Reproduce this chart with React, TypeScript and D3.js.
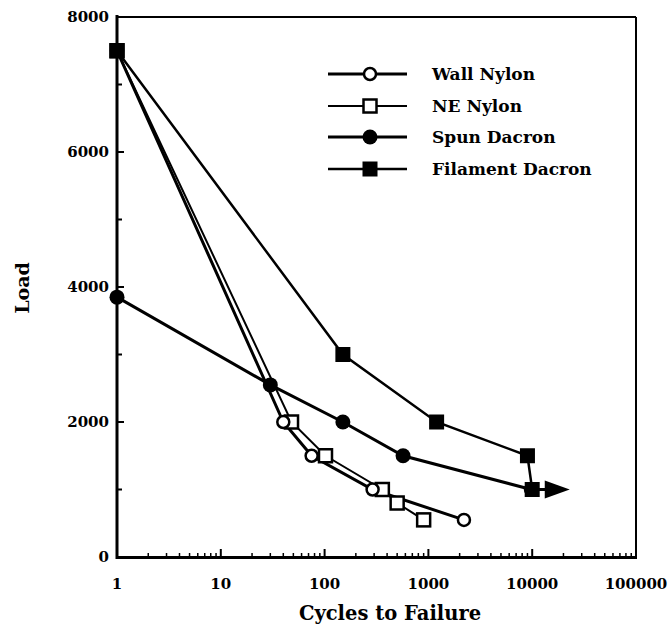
import React from "react";
import * as d3 from "d3";

const wallCycles = [1, 40, 75, 290, 2200];
const wallLoad = [7500, 2000, 1500, 1000, 550];
const neCycles = [1, 48, 102, 360, 500, 900];
const neLoad = [7500, 2000, 1500, 1000, 800, 550];
const spunCycles = [1, 30, 150, 570, 9800];
const spunLoad = [3850, 2550, 2000, 1500, 1000];
const filCycles = [1, 150, 1200, 9000, 10000];
const filLoad = [7500, 3000, 2000, 1500, 1000];
const filArrowEnd = 23000;

const xTicks = [1, 10, 100, 1000, 10000, 100000];
const xTickLabels = ["1", "10", "100", "1000", "10000", "100000"];
const yTicks = [0, 2000, 4000, 6000, 8000];
const yMinor = [1000, 3000, 5000, 7000];
const legendNames = ["Wall Nylon", "NE Nylon", "Spun Dacron", "Filament Dacron"];

const FONT = "'DejaVu Serif', 'Liberation Serif', serif";

export default function App() {
  const x = d3.scaleLog().domain([1, 100000]).range([117, 636]);
  const y = d3.scaleLinear().domain([0, 8000]).range([557, 17]);
  const line = d3
    .line<[number, number]>()
    .x((d) => x(d[0]))
    .y((d) => y(d[1]));

  const zip = (a: number[], b: number[]) => a.map((v, i) => [v, b[i]] as [number, number]);
  const wall = zip(wallCycles, wallLoad);
  const ne = zip(neCycles, neLoad);
  const spun = zip(spunCycles, spunLoad);
  const fil = zip(filCycles, filLoad);

  const minorX: number[] = [];
  for (let e = 0; e < 5; e++) {
    for (let k = 2; k <= 9; k++) minorX.push(k * Math.pow(10, e));
  }

  const openCircle = (cx: number, cy: number, key: string) => (
    <circle key={key} cx={cx} cy={cy} r={6} fill="#fff" stroke="#000" strokeWidth={2.5} />
  );
  const openSquare = (cx: number, cy: number, key: string) => (
    <rect key={key} x={cx - 6.5} y={cy - 6.5} width={13} height={13} fill="#fff" stroke="#000" strokeWidth={2.5} />
  );
  const fillCircle = (cx: number, cy: number, key: string) => (
    <circle key={key} cx={cx} cy={cy} r={7.5} fill="#000" />
  );
  const fillSquare = (cx: number, cy: number, key: string) => (
    <rect key={key} x={cx - 7.5} y={cy - 7.5} width={15} height={15} fill="#000" />
  );

  const lastFil = fil[fil.length - 1];
  const ax0 = x(lastFil[0]);
  const ay = y(lastFil[1]);
  const axTip = x(filArrowEnd);

  const legendY = [74, 106, 137, 169];
  const legendWidths = [3, 2, 3, 2.5];
  const legendMarkers = [openCircle, openSquare, fillCircle, fillSquare];

  return (
    <svg
      width={669}
      height={630}
      style={{ position: "absolute", left: 0, top: 0, background: "#fff" }}
      fontFamily={FONT}
    >
      <rect x={0} y={0} width={669} height={630} fill="#fff" />
      {/* frame */}
      <line x1={117} x2={636} y1={17} y2={17} stroke="#000" strokeWidth={2} />
      <line x1={636} x2={636} y1={17} y2={557} stroke="#000" strokeWidth={2} />
      <line x1={117} x2={117} y1={15} y2={559} stroke="#000" strokeWidth={3} />
      <line x1={116} x2={637} y1={557.5} y2={557.5} stroke="#000" strokeWidth={3} />

      {/* x ticks */}
      {xTicks.map((t) => (
        <line key={"xt" + t} x1={x(t)} x2={x(t)} y1={557} y2={549} stroke="#000" strokeWidth={2} />
      ))}
      {minorX.map((t) => (
        <line key={"xm" + t} x1={x(t)} x2={x(t)} y1={557} y2={553} stroke="#000" strokeWidth={1.5} />
      ))}
      {xTicks.map((t, i) => (
        <text key={"xl" + t} x={x(t)} y={589} textAnchor="middle" fontSize={15} fontWeight="bold">
          {xTickLabels[i]}
        </text>
      ))}

      {/* y ticks */}
      {yTicks.map((t) => (
        <line key={"yt" + t} x1={117} x2={124} y1={y(t)} y2={y(t)} stroke="#000" strokeWidth={2} />
      ))}
      {yMinor.map((t) => (
        <line key={"ym" + t} x1={117} x2={122} y1={y(t)} y2={y(t)} stroke="#000" strokeWidth={2} />
      ))}
      {yTicks.map((t) => (
        <text key={"yl" + t} x={109} y={y(t) + 5} textAnchor="end" fontSize={15} fontWeight="bold">
          {t}
        </text>
      ))}

      {/* axis titles */}
      <text x={390} y={620} textAnchor="middle" fontSize={19.5} fontWeight="bold">
        Cycles to Failure
      </text>
      <text
        transform={`translate(29,288) rotate(-90)`}
        textAnchor="middle"
        fontSize={19}
        fontWeight="bold"
      >
        Load
      </text>

      {/* series lines */}
      <path d={line(ne) || ""} fill="none" stroke="#000" strokeWidth={2} />
      <path d={line(wall) || ""} fill="none" stroke="#000" strokeWidth={3} />
      <path d={line(spun) || ""} fill="none" stroke="#000" strokeWidth={3} />
      <path d={line(fil) || ""} fill="none" stroke="#000" strokeWidth={2.5} />
      <line x1={ax0} x2={axTip - 20} y1={ay} y2={ay} stroke="#000" strokeWidth={3} />
      <path d={`M${axTip - 25},${ay - 9} L${axTip},${ay} L${axTip - 25},${ay + 9} Z`} fill="#000" />

      {/* markers */}
      {spun.map((d, i) => fillCircle(x(d[0]), y(d[1]), "s" + i))}
      {ne.map((d, i) => openSquare(x(d[0]), y(d[1]), "n" + i))}
      {wall.map((d, i) => openCircle(x(d[0]), y(d[1]), "w" + i))}
      {fil.map((d, i) => fillSquare(x(d[0]), y(d[1]), "f" + i))}

      {/* legend */}
      {legendNames.map((name, i) => (
        <g key={"lg" + i}>
          <line x1={328} x2={407} y1={legendY[i]} y2={legendY[i]} stroke="#000" strokeWidth={legendWidths[i]} />
          {legendMarkers[i](370, legendY[i], "lm" + i)}
          <text x={432} y={legendY[i] + 6} fontSize={17} fontWeight="bold">
            {name}
          </text>
        </g>
      ))}
    </svg>
  );
}
